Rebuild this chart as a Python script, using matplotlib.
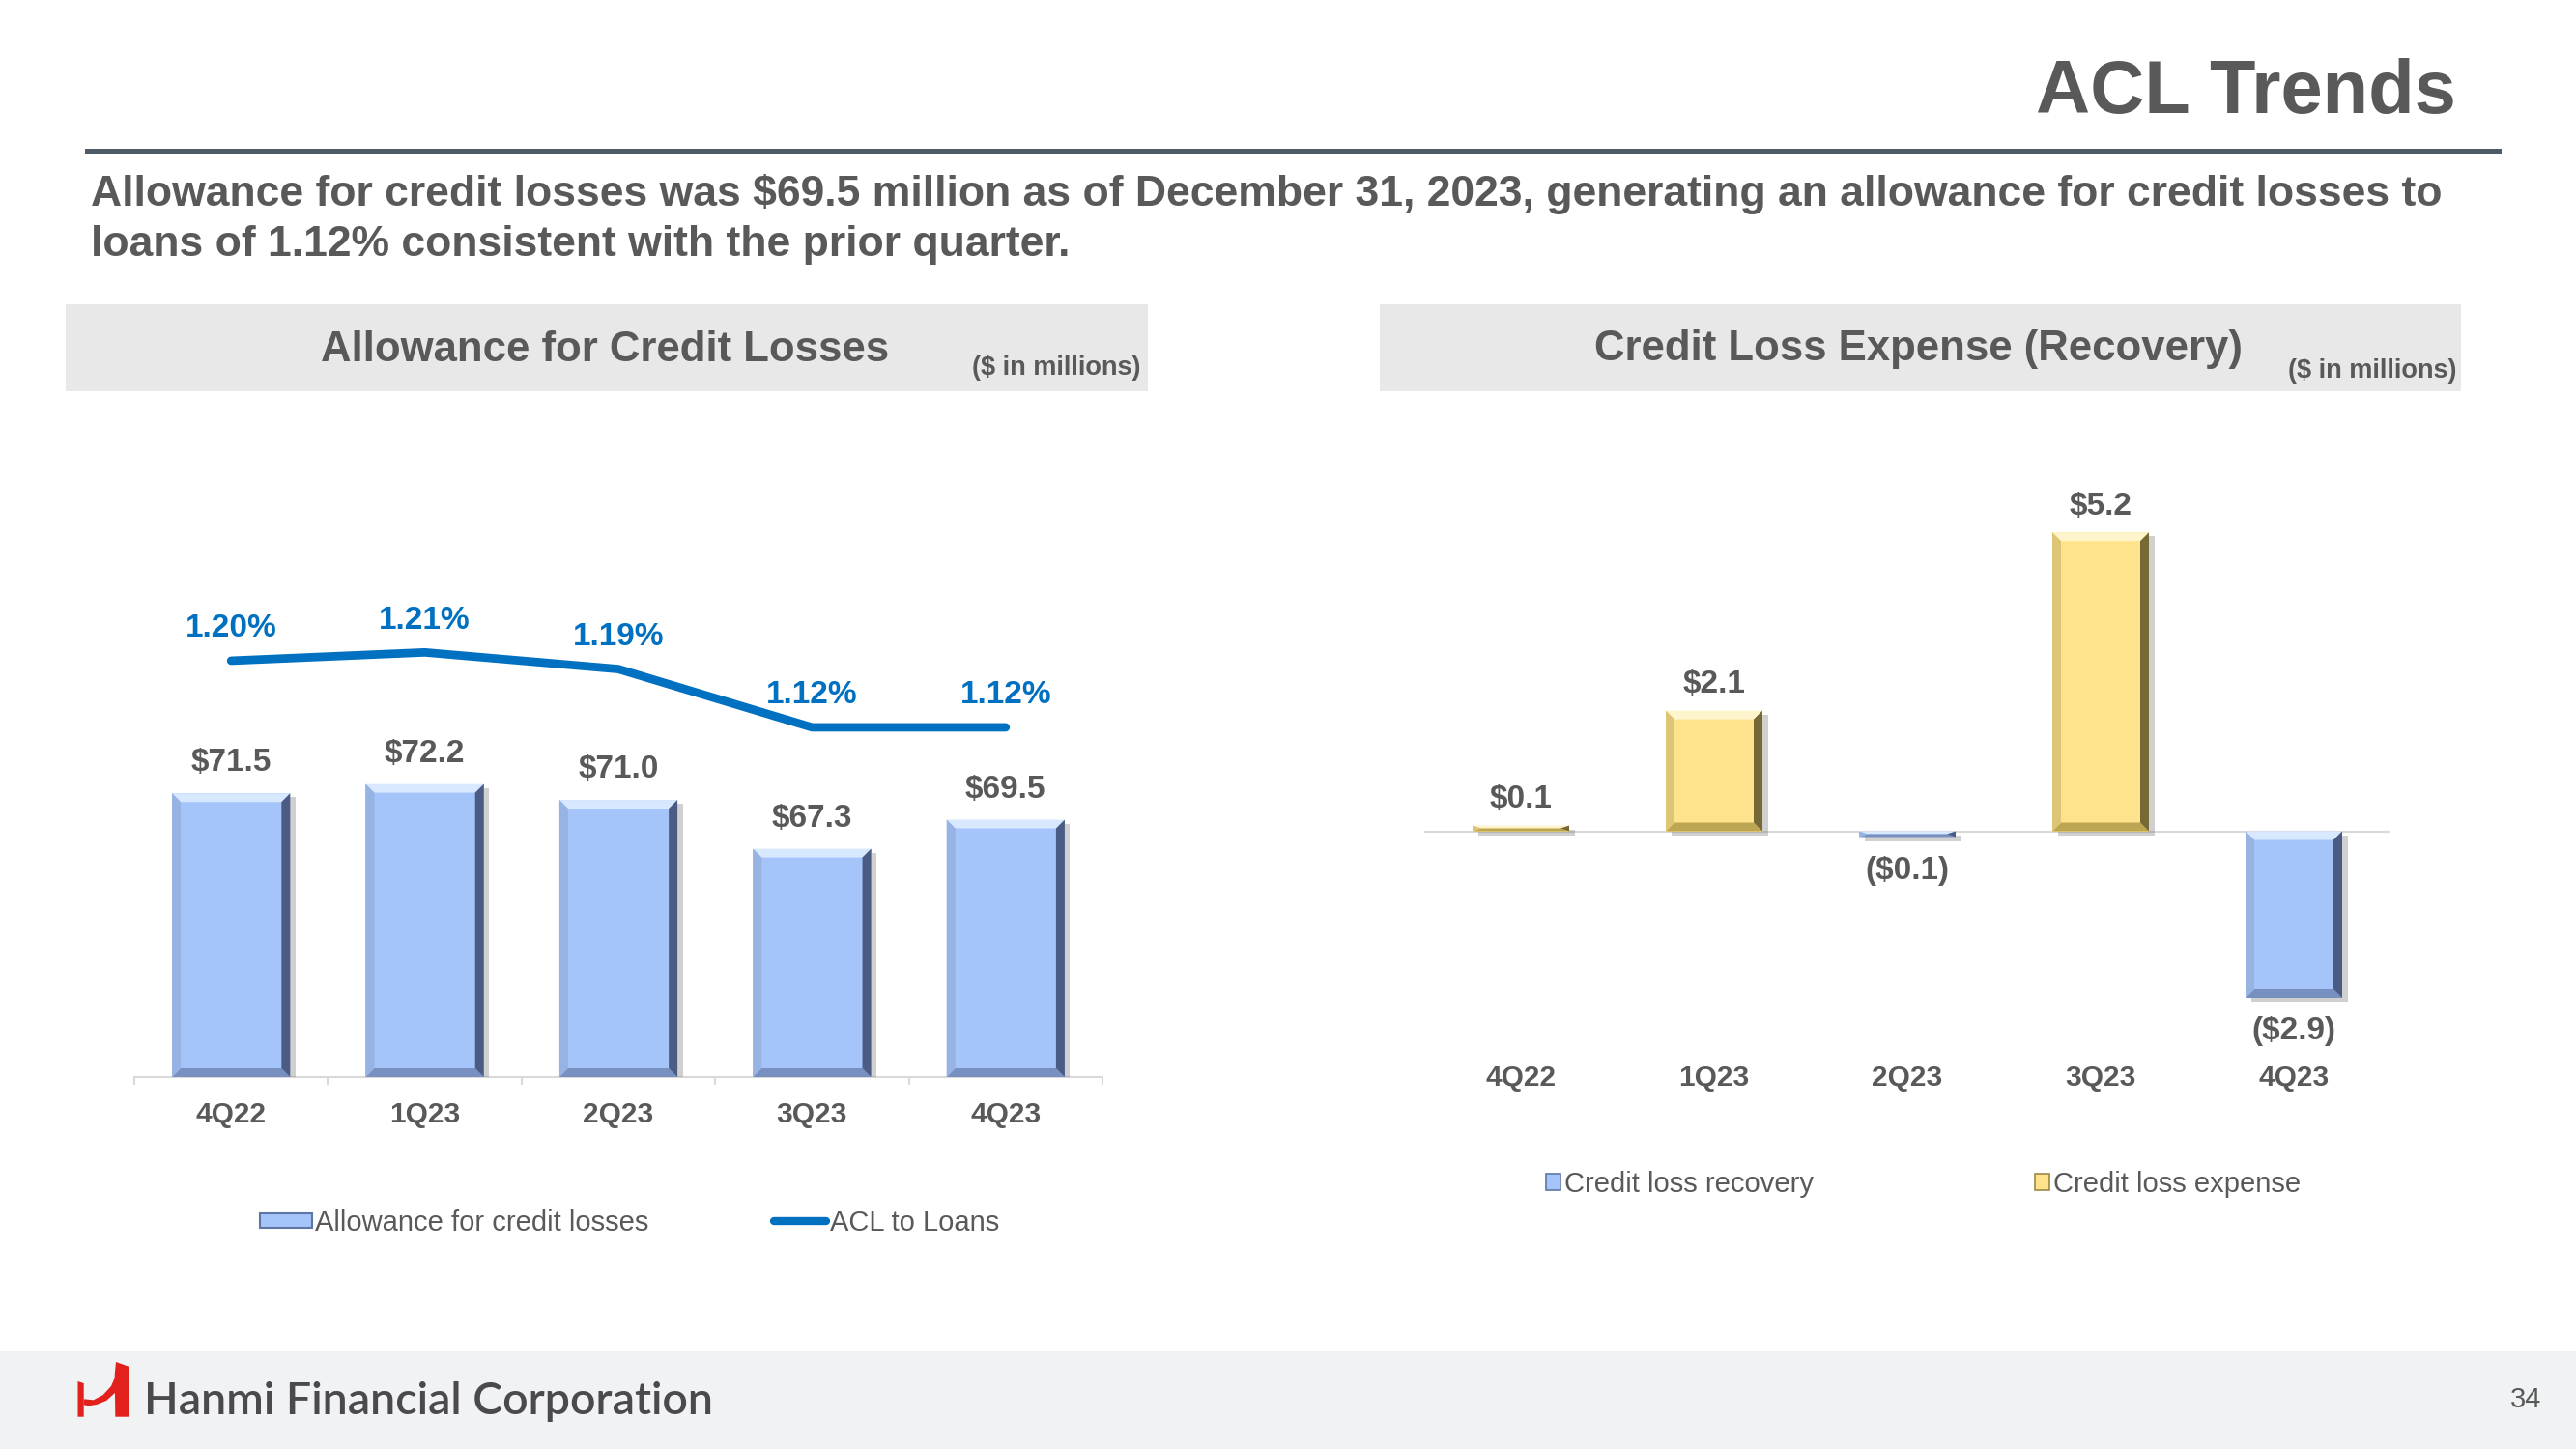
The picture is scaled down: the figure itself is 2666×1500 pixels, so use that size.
import matplotlib
matplotlib.use("Agg")
import matplotlib.pyplot as plt
import matplotlib.patheffects as pe
from matplotlib.patches import Rectangle, Polygon
from matplotlib.lines import Line2D
import numpy as np

# --- Data ---
quarters = ["4Q22", "1Q23", "2Q23", "3Q23", "4Q23"]
acl = [71.5, 72.2, 71.0, 67.3, 69.5]                # $ millions
acl_to_loans = [1.20, 1.21, 1.19, 1.12, 1.12]       # %
provision = [0.1, 2.1, -0.1, 5.2, -2.9]             # $ millions

# --- Style ---
W, H, DPI = 2666, 1500, 100
FONT = "Liberation Sans"
GRAY = "#595959"
LINE_BLUE = "#0070C0"
BAR_BLUE = "#A4C4FA"
BLUE_BEVEL = ("#D8E8FF", "#97B3E4", "#4A5C84", "#7790BF")   # top, left, right, bottom
BAR_GOLD = "#FFE38C"
GOLD_BEVEL = ("#FFF5CC", "#DCC676", "#776935", "#BDA653")
AXIS_GRAY = "#D9D9D9"
plt.rcParams["font.family"] = [FONT, "DejaVu Sans"]


def px(x, y):
    return (x / W, 1 - y / H)


def box(x0, y0, x1, y1):
    return [x0 / W, 1 - y1 / H, (x1 - x0) / W, (y1 - y0) / H]


def bevel(ax, patch, colors, bw=9):
    """Draw a bevelled frame over a bar, bw in pixels."""
    x0, y0 = patch.get_x(), patch.get_y()
    x1, y1 = x0 + patch.get_width(), y0 + patch.get_height()
    y0, y1 = min(y0, y1), max(y0, y1)
    inv = ax.transData.inverted()
    dx, dy = inv.transform((bw, bw)) - inv.transform((0, 0))
    dx = min(dx, (x1 - x0) / 2)
    dy = min(dy, (y1 - y0) / 2)
    top, left, right, bottom = colors
    quads = [
        (top, [(x0, y1), (x1, y1), (x1 - dx, y1 - dy), (x0 + dx, y1 - dy)]),
        (bottom, [(x0, y0), (x1, y0), (x1 - dx, y0 + dy), (x0 + dx, y0 + dy)]),
        (left, [(x0, y0), (x0, y1), (x0 + dx, y1 - dy), (x0 + dx, y0 + dy)]),
        (right, [(x1, y0), (x1, y1), (x1 - dx, y1 - dy), (x1 - dx, y0 + dy)]),
    ]
    for c, pts in quads:
        ax.add_patch(Polygon(pts, closed=True, facecolor=c, edgecolor="none", zorder=4))


shadow = [pe.withSimplePatchShadow(offset=(4, -3), shadow_rgbFace="#666666", alpha=0.3)]

fig = plt.figure(figsize=(W / DPI, H / DPI), dpi=DPI)

# --- Slide header ---
fig.text(*px(2542, 97), "ACL Trends", ha="right", va="center", fontsize=56,
         fontweight="bold", color=GRAY)
fig.add_artist(Line2D([90 / W, 2586 / W], [1 - 156 / H] * 2, lw=3.6, color="#4E5B66"))
fig.text(*px(94, 201), "Allowance for credit losses was $69.5 million as of December 31, 2023, "
         "generating an allowance for credit losses to", ha="left", va="center",
         fontsize=32, fontweight="bold", color=GRAY)
fig.text(*px(94, 254), "loans of 1.12% consistent with the prior quarter.", ha="left",
         va="center", fontsize=32, fontweight="bold", color=GRAY)

# panel header boxes
for x0, x1, title, tx, ux, uy in [(68, 1188, "Allowance for Credit Losses", 626, 1180, 381),
                                  (1428, 2547, "Credit Loss Expense (Recovery)", 1985, 2542, 384)]:
    fig.add_artist(Rectangle(px(x0, 405), (x1 - x0) / W, 90 / H, transform=fig.transFigure,
                             facecolor="#E8E8E8", edgecolor="none", zorder=0))
    fig.text(*px(tx, 362), title, ha="center", va="center", fontsize=31.5,
             fontweight="bold", color=GRAY)
    fig.text(*px(ux, uy), "($ in millions)", ha="right", va="center", fontsize=19.5,
             fontweight="bold", color=GRAY)

# --- Left: allowance bars + ACL to loans line ---
x = np.arange(len(quarters))
Y0 = 50.0
ax1 = fig.add_axes(box(139, 440, 1141, 1115))
ax1.set_xlim(-0.5, len(quarters) - 0.5)
ax1.set_ylim(Y0, 99.4)
bars = ax1.bar(x, np.array(acl) - Y0, bottom=Y0, width=0.61, color=BAR_BLUE,
               edgecolor="none", zorder=3)
for b in bars:
    b.set_path_effects(shadow)
    bevel(ax1, b, BLUE_BEVEL)
for xi, v in zip(x, acl):
    ax1.annotate(f"${v:.1f}", (xi, v), xytext=(0, 22.5), textcoords="offset points",
                 ha="center", va="center", fontsize=24, fontweight="bold", color=GRAY)

ax1b = ax1.twinx()
ax1b.plot(x, acl_to_loans, color=LINE_BLUE, lw=6.3, solid_capstyle="round", zorder=5)
ax1b.set_ylim(0.70, 1.483)
for xi, v in zip(x, acl_to_loans):
    ax1b.annotate(f"{v:.2f}%", (xi, v), xytext=(0, 24), textcoords="offset points",
                  ha="center", va="center", fontsize=24, fontweight="bold", color=LINE_BLUE)

for a in (ax1, ax1b):
    for s in ("top", "left", "right"):
        a.spines[s].set_visible(False)
    a.set_yticks([])
ax1b.spines["bottom"].set_visible(False)
ax1.spines["bottom"].set_color(AXIS_GRAY)
ax1.spines["bottom"].set_linewidth(1.5)
ax1.set_xticks(x)
ax1.set_xticklabels(quarters, fontsize=21.5, fontweight="bold", color=GRAY)
ax1.set_xticks(np.arange(-0.5, len(quarters)), minor=True)
ax1.tick_params(axis="x", which="major", length=0, pad=18)
ax1.tick_params(axis="x", which="minor", length=6, width=1.5, color=AXIS_GRAY)

fig.legend(handles=[Rectangle((0, 0), 1, 1, facecolor=BAR_BLUE, edgecolor="#5E76A6", lw=1.5)],
           labels=["Allowance for credit losses"], loc="center left",
           bbox_to_anchor=px(269, 1266), frameon=False, borderpad=0, borderaxespad=0,
           handlelength=1.85, handleheight=0.45, handletextpad=0.1, fontsize=21,
           labelcolor=GRAY)
fig.legend(handles=[Line2D([], [], color=LINE_BLUE, lw=6, solid_capstyle="round")],
           labels=["ACL to Loans"], loc="center left",
           bbox_to_anchor=px(801, 1266), frameon=False, borderpad=0, borderaxespad=0,
           handlelength=1.85, handletextpad=0.15, fontsize=21, labelcolor=GRAY)

# --- Right: credit loss expense (recovery) ---
ax2 = fig.add_axes(box(1474, 440, 2474, 1080))
ax2.set_xlim(-0.5, len(quarters) - 0.5)
ax2.set_ylim(-3.69, 7.07)
expense = [v if v > 0 else 0 for v in provision]
recovery = [v if v < 0 else 0 for v in provision]
b_exp = ax2.bar(x, expense, width=0.5, color=BAR_GOLD, edgecolor="none", zorder=3)
b_rec = ax2.bar(x, recovery, width=0.5, color=BAR_BLUE, edgecolor="none", zorder=3)
for bars_, vals, cols in [(b_exp, expense, GOLD_BEVEL), (b_rec, recovery, BLUE_BEVEL)]:
    for b, v in zip(bars_, vals):
        if v == 0:
            b.set_visible(False)
            continue
        b.set_path_effects(shadow)
        bevel(ax2, b, cols)
ax2.axhline(0, color=AXIS_GRAY, lw=1.5, zorder=2)
for xi, v in zip(x, provision):
    lab = f"${v:.1f}" if v >= 0 else f"(${abs(v):.1f})"
    ax2.annotate(lab, (xi, v), xytext=(0, 19.5 if v >= 0 else -25), textcoords="offset points",
                 ha="center", va="center", fontsize=24, fontweight="bold", color=GRAY)
for s in ax2.spines.values():
    s.set_visible(False)
ax2.set_yticks([])
ax2.set_xticks(x)
ax2.set_xticklabels(quarters, fontsize=21.5, fontweight="bold", color=GRAY)
ax2.tick_params(axis="x", length=0, pad=16)

fig.legend(handles=[Rectangle((0, 0), 1, 1, facecolor=BAR_BLUE, edgecolor="#5E76A6", lw=1.2),
                    Rectangle((0, 0), 1, 1, facecolor=BAR_GOLD, edgecolor="#9C8A45", lw=1.2)],
           labels=["Credit loss recovery", "Credit loss expense"], loc="center left",
           bbox_to_anchor=px(1600, 1226), frameon=False, borderpad=0, borderaxespad=0,
           ncol=2, columnspacing=7.85, handlelength=0.5, handleheight=0.5,
           handletextpad=0.15, fontsize=21, labelcolor=GRAY)

# --- Footer ---
fig.add_artist(Rectangle((0, 0), 1, 101 / H, transform=fig.transFigure,
                         facecolor="#F1F2F4", edgecolor="none", zorder=0))
RED = "#E3211C"
logo = [
    [(80.5, 1430), (86.7, 1432), (86.7, 1466.7), (80.5, 1466.7)],
    [(119.3, 1466.7), (134, 1466.7), (134, 1415), (120, 1410), (118.7, 1423)],
    [(86.7, 1448.3), (96.7, 1449.3), (106.7, 1444), (115, 1435), (119.3, 1425),
     (119.3, 1441.7), (110, 1450), (100, 1454), (91.7, 1455.3), (86.7, 1454.3)],
]
for pts in logo:
    fig.add_artist(Polygon([px(*p) for p in pts], closed=True, transform=fig.transFigure,
                           facecolor=RED, edgecolor="none"))
fig.text(*px(149, 1451), "Hanmi Financial Corporation", ha="left", va="center",
         fontsize=33.5, family="Lato", fontweight="semibold", color="#4A4A4C")
fig.text(*px(2630, 1449), "34", ha="right", va="center", fontsize=21, color=GRAY)

fig.savefig("out.png", dpi=DPI)
